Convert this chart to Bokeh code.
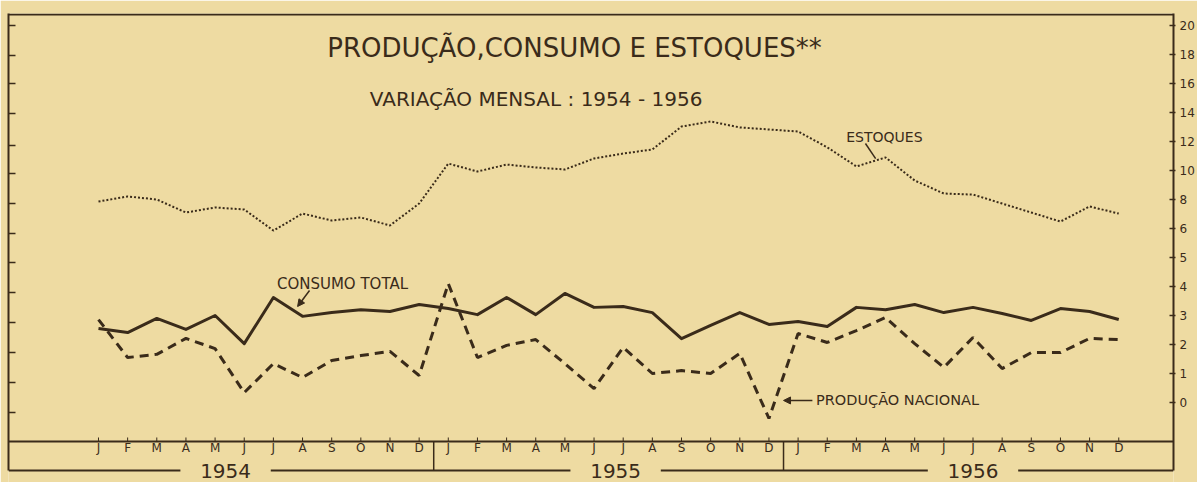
from bokeh.plotting import figure
from bokeh.models import Range1d, LinearAxis, FixedTicker, Arrow, NormalHead
from bokeh.core.properties import value
from bokeh.embed import file_html
from bokeh.resources import INLINE

# ---------------- data ----------------
MONTHS = ["J", "F", "M", "A", "M", "J", "J", "A", "S", "O", "N", "D"]
YEARS = ["1954", "1955", "1956"]
MONTH_LABELS = MONTHS * 3

CONSUMO = [2.55, 2.41, 2.90, 2.52, 3.00, 2.03, 3.62, 2.97, 3.10, 3.20, 3.14, 3.38,
           3.24, 3.03, 3.62, 3.03, 3.76, 3.28, 3.31, 3.10, 2.20, 2.66, 3.10, 2.69,
           2.79, 2.62, 3.28, 3.20, 3.38, 3.10, 3.28, 3.07, 2.83, 3.24, 3.14, 2.86]

PRODUCAO = [2.86, 1.55, 1.66, 2.21, 1.86, 0.34, 1.34, 0.86, 1.45, 1.62, 1.76, 0.93,
            4.10, 1.55, 1.97, 2.17, 1.34, 0.48, 1.90, 1.00, 1.10, 1.00, 1.69, -0.55,
            2.38, 2.07, 2.48, 2.93, 2.03, 1.21, 2.24, 1.17, 1.72, 1.72, 2.21, 2.17]

ESTOQUES = [7.86, 8.21, 8.00, 7.10, 7.45, 7.31, 5.86, 7.03, 6.55, 6.76, 6.21, 7.72,
            10.48, 9.93, 10.41, 10.21, 10.07, 10.83, 11.17, 11.45, 13.03, 13.38, 12.97, 12.83,
            12.69, 11.60, 10.28, 10.90, 9.31, 8.41, 8.34, 7.72, 7.10, 6.48, 7.52, 7.03]

AXIS_TICKS = list(range(14))
AXIS_LABELS = ["0", "1", "2", "3", "4", "5", "6", "8", "10", "12", "14", "16", "18", "20"]
LEFT_TICKS = [13.0, 11.97, 11.0, 9.97, 8.86, 7.9, 6.86, 5.83, 4.83, 3.79, 2.76, 1.72, 0.69, -0.34]

TITLE = "PRODUÇÃO,CONSUMO E ESTOQUES**"
SUBTITLE = "VARIAÇÃO   MENSAL : 1954 - 1956"

# ---------------- style / layout ----------------
INK = "#3a2b1a"
PAPER = "#eedba2"
FONT_NAME = "DejaVu Sans"
FONT = value(FONT_NAME)

W, H = 1197, 482
X0, X1 = -3.087, 36.878
Y0, Y1 = -2.759, 13.414
PX = 29.0  # pixels per slot (vertical)

YBASE = -1.345     # month axis line
YBOT = -2.345      # bottom frame line
YTOP = 13.379
YMON = -1.569
YYEAR = -2.36
YEAR_POS = [4.36, 17.74, 30.0]
YEAR_GAP = 1.55
SEPARATORS = [11.5, 23.5]

# scale for the stocks (upper part of the right axis: slot 6 -> 6, slot 13 -> 20)
slope = (float(AXIS_LABELS[13]) - float(AXIS_LABELS[6])) / (13 - 6)
offset = float(AXIS_LABELS[6]) - slope * 6

x = list(range(len(CONSUMO)))

p = figure(width=W, height=H, x_range=Range1d(X0, X1), y_range=Range1d(Y0, Y1),
           x_axis_location=None, y_axis_location=None,
           toolbar_location=None, tools="", output_backend="svg",
           min_border_left=8, min_border_right=24, min_border_top=13, min_border_bottom=0)
p.extra_y_ranges = {"est": Range1d(slope * Y0 + offset, slope * Y1 + offset)}
p.background_fill_color = PAPER
p.border_fill_color = PAPER
p.outline_line_color = None
p.grid.visible = False

# right axis with labels
ra = LinearAxis(ticker=FixedTicker(ticks=AXIS_TICKS, minor_ticks=[]),
                major_label_overrides={t: l for t, l in zip(AXIS_TICKS, AXIS_LABELS)},
                bounds=(YBOT, Y1),
                axis_line_color=INK, axis_line_width=2,
                major_tick_line_color=INK, major_tick_line_width=1.5,
                major_tick_in=4, major_tick_out=2,
                minor_tick_line_color=None,
                major_label_text_font=FONT_NAME, major_label_text_font_size="12px",
                major_label_text_color=INK, major_label_standoff=4)
p.add_layout(ra, "right")

# left axis: ticks only
la = LinearAxis(ticker=FixedTicker(ticks=LEFT_TICKS, minor_ticks=[]),
                major_label_overrides={t: "" for t in LEFT_TICKS},
                bounds=(YBOT, Y1),
                axis_line_color=INK, axis_line_width=2,
                major_tick_line_color=INK, major_tick_line_width=1.5,
                major_tick_in=7, major_tick_out=0,
                minor_tick_line_color=None,
                major_label_text_font_size="0px", major_label_standoff=0)
p.add_layout(la, "left")

# frame lines
p.segment(x0=[X0, X0], y0=[YTOP, YBASE], x1=[X1, X1], y1=[YTOP, YBASE],
          line_color=INK, line_width=2)
# month ticks on the base line
p.segment(x0=x, y0=[YBASE] * len(x), x1=x, y1=[YBASE + 4 / PX] * len(x),
          line_color=INK, line_width=1)
# year separators
p.segment(x0=SEPARATORS, y0=[YBASE] * 2, x1=SEPARATORS, y1=[YBOT] * 2,
          line_color=INK, line_width=1.5)
# bottom line interrupted by the year labels
bx0 = [X0] + [yp + YEAR_GAP for yp in YEAR_POS]
bx1 = [yp - YEAR_GAP for yp in YEAR_POS] + [X1]
p.segment(x0=bx0, y0=[YBOT] * 4, x1=bx1, y1=[YBOT] * 4, line_color=INK, line_width=2)

# month and year labels
p.text(x=x, y=[YMON] * len(x), text=MONTH_LABELS, text_font=FONT, text_font_size="12px",
       text_color=INK, text_align="center", text_baseline="middle")
p.text(x=YEAR_POS, y=[YYEAR] * 3, text=YEARS, text_font=FONT, text_font_size="20px",
       text_color=INK, text_align="center", text_baseline="middle")

# series
p.line(x, ESTOQUES, y_range_name="est", line_color=INK, line_width=2, line_dash="2 2")
p.line(x, PRODUCAO, line_color=INK, line_width=3, line_dash="9 6")
p.line(x, CONSUMO, line_color=INK, line_width=3, line_join="round")

# titles
p.text(x=[16.33], y=[12.24], text=[TITLE], text_font=FONT, text_font_size="26px",
       text_color=INK, text_align="center", text_baseline="middle")
p.text(x=[15.23], y=[10.45], text=[SUBTITLE], text_font=FONT, text_font_size="20px",
       text_color=INK, text_align="center", text_baseline="middle")

# series labels
p.text(x=[8.37], y=[4.10], text=["CONSUMO TOTAL"], text_font=FONT, text_font_size="15px",
       text_color=INK, text_align="center", text_baseline="middle")
p.text(x=[26.96], y=[9.17], text=["ESTOQUES"], text_font=FONT, text_font_size="14px",
       text_color=INK, text_align="center", text_baseline="middle")
p.text(x=[27.41], y=[0.10], text=["PRODUÇÃO NACIONAL"], text_font=FONT, text_font_size="14.5px",
       text_color=INK, text_align="center", text_baseline="middle")

# leaders
p.add_layout(Arrow(end=NormalHead(size=7, fill_color=INK, line_color=INK),
                   x_start=7.24, y_start=3.86, x_end=6.83, y_end=3.31,
                   line_color=INK, line_width=1.5))
p.segment(x0=[26.31], y0=[8.93], x1=[26.66], y1=[8.41], line_color=INK, line_width=1.5)
p.add_layout(Arrow(end=NormalHead(size=7, fill_color=INK, line_color=INK),
                   x_start=24.49, y_start=0.07, x_end=23.50, y_end=0.07,
                   line_color=INK, line_width=1.5))

open("out.html", "w").write(file_html(p, INLINE))
